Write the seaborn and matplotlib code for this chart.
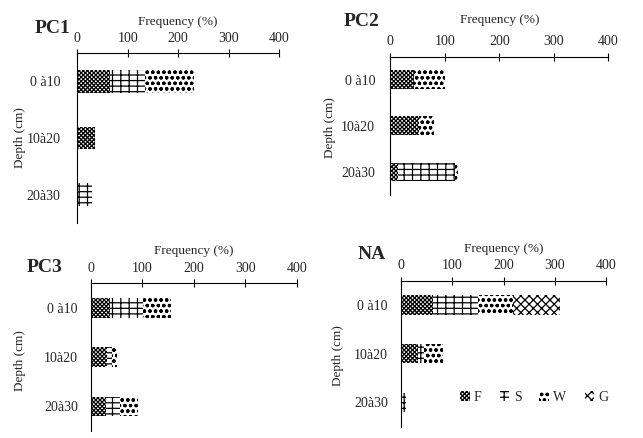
import matplotlib.pyplot as plt
import seaborn as sns
import pandas as pd
from matplotlib.patches import Patch

# Depth classes and frequency (%) of each type per site
depths = ['0 à10', '10à20', '20à30']
types = ['F', 'S', 'W', 'G']

pc1_F = [65, 36, 0]
pc1_S = [69, 0, 30]
pc1_W = [98, 0, 0]
pc1_G = [0, 0, 0]

pc2_F = [43, 52, 15]
pc2_S = [0, 0, 104]
pc2_W = [57, 28, 5]
pc2_G = [0, 0, 0]

pc3_F = [37, 32, 29]
pc3_S = [65, 8, 27]
pc3_W = [54, 11, 36]
pc3_G = [0, 0, 0]

na_F = [62, 34, 0]
na_S = [88, 10, 9]
na_W = [68, 38, 0]
na_G = [92, 0, 0]

sites = {
    'PC1': [pc1_F, pc1_S, pc1_W, pc1_G],
    'PC2': [pc2_F, pc2_S, pc2_W, pc2_G],
    'PC3': [pc3_F, pc3_S, pc3_W, pc3_G],
    'NA': [na_F, na_S, na_W, na_G],
}

hatches = {'F': 'xxxxxxxx', 'S': '---||', 'W': 'ooo', 'G': 'xxxx'}

sns.set_style('white')
plt.rcParams['font.family'] = ['Liberation Serif', 'DejaVu Serif']
plt.rcParams['hatch.linewidth'] = 0.9

fig = plt.figure(figsize=(6.43, 4.38), dpi=100)

# axes boxes in figure fraction (left, bottom, width, height)
boxes = {
    'PC1': [0.120, 0.491, 0.314, 0.388],
    'PC2': [0.607, 0.555, 0.339, 0.316],
    'PC3': [0.1415, 0.016, 0.320, 0.337],
    'NA': [0.6236, 0.026, 0.319, 0.333],
}
title_pos = {'PC1': (0.081, 0.936), 'PC2': (0.563, 0.95),
             'PC3': (0.069, 0.39), 'NA': (0.578, 0.42)}
ylabel_pos = {'PC1': (-0.255, 0.5), 'PC2': (-0.25, 0.49),
              'PC3': (-0.318, 0.48), 'NA': (-0.28, 0.485)}
xlabel_pad = {'PC1': 5, 'PC2': 9, 'PC3': 6, 'NA': 5}
ylab_pad = {'PC1': 12, 'PC2': 11, 'PC3': 9.5, 'NA': 9.5}

for name, series in sites.items():
    ax = fig.add_axes(boxes[name])
    df = pd.DataFrame({'depth': depths})
    cum = [0, 0, 0]
    cums = []
    for s in series:
        cum = [a + b for a, b in zip(cum, s)]
        cums.append(cum)
    # draw from the total backwards so each layer covers the next
    for t, c in reversed(list(zip(types, cums))):
        df['val'] = c
        n0 = len(ax.patches)
        sns.barplot(data=df, x='val', y='depth', orient='y', color='white',
                    width=0.4, linewidth=0, edgecolor='black', ax=ax)
        for p in ax.patches[n0:]:
            p.set_facecolor('white')
            p.set_edgecolor('black')
            p.set_linewidth(0)
            p.set_hatch(hatches[t])

    ax.set_xlim(0, 400)
    ax.set_ylim(2.5, -0.5)
    ax.xaxis.tick_top()
    ax.xaxis.set_label_position('top')
    ax.set_xticks([0, 100, 200, 300, 400])
    ax.set_xlabel('Frequency (%)', fontsize=9.5, labelpad=xlabel_pad[name])
    ax.set_ylabel('Depth (cm)', fontsize=9.5)
    ax.yaxis.set_label_coords(*ylabel_pos[name])
    ax.set_yticks([-0.5, 0.5, 1.5, 2.5])
    ax.set_yticklabels([])
    ax.set_yticks([0, 1, 2], minor=True)
    ax.set_yticklabels(depths, minor=True)
    ax.tick_params(axis='y', which='minor', length=0, labelsize=10,
                   pad=ylab_pad[name])
    ax.tick_params(axis='y', which='major', direction='inout', length=7,
                   width=0.8, color='black')
    ax.tick_params(axis='x', direction='inout', length=6, width=0.8,
                   labelsize=10, pad=3, color='black')
    for sp in ['right', 'bottom']:
        ax.spines[sp].set_visible(False)
    for sp in ['left', 'top']:
        ax.spines[sp].set_color('black')
        ax.spines[sp].set_linewidth(0.8)

    fig.text(*title_pos[name], name, fontsize=14, fontweight='bold',
             ha='center', va='center')

    if name == 'NA':
        handles = [Patch(facecolor='white', edgecolor='black', linewidth=0,
                         hatch=hatches[t], label=t) for t in types]
        ax.legend(handles=handles, ncol=4, frameon=False, fontsize=10,
                  loc='center', bbox_to_anchor=(0.65, 0.20),
                  handlelength=0.7, handleheight=0.7, handletextpad=0.3,
                  columnspacing=1.3)

fig.savefig('out.png', dpi=100)
plt.close(fig)
